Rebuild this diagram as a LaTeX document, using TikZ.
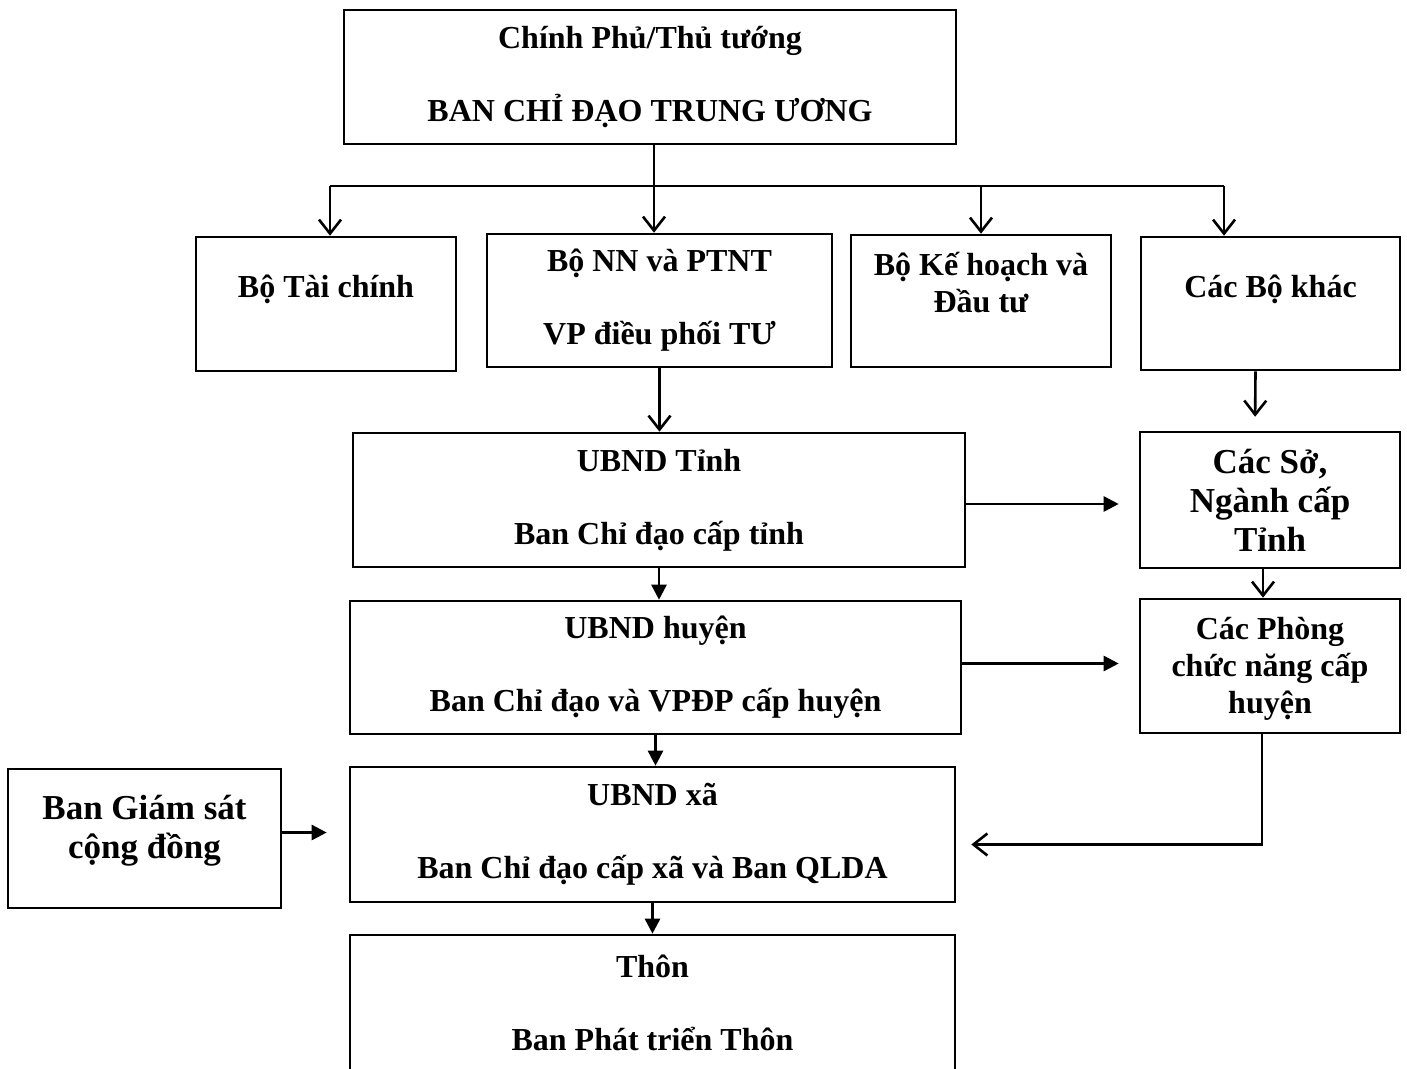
\documentclass[tikz,border=0pt]{standalone}
\usepackage{fontspec}
\setmainfont{Liberation Serif}
\usetikzlibrary{arrows.meta}
\tikzstyle{box} = [rectangle, draw=black, line width=2.6pt, align=center, inner sep=0pt, font=\fontsize{32}{37}\selectfont\bfseries]
\tikzstyle{bigbox} = [box, font=\fontsize{35}{39}\selectfont\bfseries]
\tikzstyle{line} = [line width=2.6pt]
\tikzstyle{openarrow} = [line, -{Straight Barb[length=14pt,width=22pt,line width=2.6pt]}]
\tikzstyle{fillarrow} = [line, -{Triangle[length=15pt,width=15pt]}]

\begin{document}
\begin{tikzpicture}[x=1pt, y=-1pt]
\useasboundingbox (0,0) rectangle (1407,1068);

\node (gov) [box, minimum width=612pt, minimum height=134pt] at (650,77) {Chính Phủ/Thủ tướng\\[36pt]BAN CHỈ ĐẠO TRUNG ƯƠNG};
\node (fin) [box, minimum width=260pt, minimum height=134pt, text depth=35pt] at (326,304) {Bộ Tài chính};
\node (agri) [box, minimum width=345pt, minimum height=133pt] at (659.5,300.5) {Bộ NN và PTNT\\[36pt]VP điều phối TƯ};
\node (plan) [box, minimum width=260pt, minimum height=132pt, text depth=37pt] at (981,301) {Bộ Kế hoạch và\\Đầu tư};
\node (other) [box, minimum width=259pt, minimum height=133pt, text depth=35pt] at (1270.5,303.5) {Các Bộ khác};
\node (prov) [box, minimum width=612pt, minimum height=134pt] at (659,500) {UBND Tỉnh\\[36pt]Ban Chỉ đạo cấp tỉnh};
\node (dept) [bigbox, minimum width=260pt, minimum height=136pt] at (1270,500) {Các Sở,\\Ngành cấp\\Tỉnh};
\node (dist) [box, minimum width=611pt, minimum height=133pt] at (655.5,667.5) {UBND huyện\\[36pt]Ban Chỉ đạo và VPĐP cấp huyện};
\node (office) [box, minimum width=260pt, minimum height=134pt, text depth=2pt] at (1270,666) {Các Phòng\\chức năng cấp\\huyện};
\node (comm) [box, minimum width=605pt, minimum height=135pt] at (652.5,834.5) {UBND xã\\[36pt]Ban Chỉ đạo cấp xã và Ban QLDA};
\node (monitor) [bigbox, minimum width=273pt, minimum height=139pt, text depth=24pt] at (144.5,838.5) {Ban Giám sát\\cộng đồng};
\node (village) [box, minimum width=605pt, minimum height=135pt] at (652.5,1002.5) {Thôn\\[36pt]Ban Phát triển Thôn};

\coordinate (busL) at (330,186);
\coordinate (busR) at (1224,186);

\draw [line] (busL) -- (busR);
\draw [openarrow] ([xshift=4pt]gov.south) -- ([xshift=4pt]gov.south |- agri.north);
\draw [openarrow] (busL) -- (busL |- fin.north);
\draw [openarrow] (plan.north |- busL) -- (plan.north);
\draw [openarrow] (busR) -- (busR |- other.north);
\draw [openarrow] (agri.south) -- (agri.south |- prov.north);
\draw [openarrow, shorten >=14pt] ([xshift=-15pt]other.south) -- ([xshift=-15pt]dept.north);
\draw [fillarrow, shorten >=20pt] ([yshift=-4pt]prov.east) -- ([yshift=-4pt]prov.east -| dept.west);
\draw [fillarrow] (prov.south) -- (prov.south |- dist.north);
\draw [openarrow] ([xshift=-7pt]dept.south) -- ([xshift=-7pt]office.north);
\draw [fillarrow, shorten >=20pt] ([yshift=4pt]dist.east) -- ([yshift=4pt]dist.east -| office.west);
\draw [fillarrow] (dist.south) -- (dist.south |- comm.north);
\draw [fillarrow, shorten >=22pt] ([yshift=6pt]monitor.east) -- ([yshift=6pt]monitor.east -| comm.west);
\draw [openarrow, shorten >=15pt] ([xshift=-8pt]office.south) |- ([yshift=-10pt]comm.east);
\draw [fillarrow] (comm.south) -- (comm.south |- village.north);

\end{tikzpicture}
\end{document}
